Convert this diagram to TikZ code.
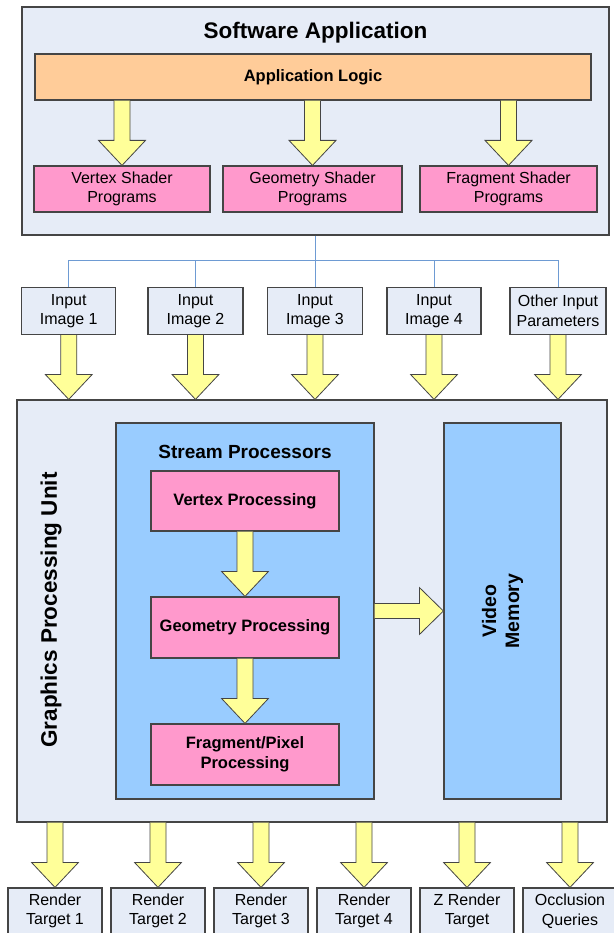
\documentclass[tikz,border=0pt]{standalone}
\usepackage{fontspec}
\setmainfont{Liberation Sans}
\usetikzlibrary{calc}

\definecolor{fondo}{HTML}{E6ECF7}
\definecolor{azul}{HTML}{99CCFF}
\definecolor{rosa}{HTML}{FF99CC}
\definecolor{naranja}{HTML}{FFCC99}
\definecolor{amarillo}{HTML}{FFFF99}
\definecolor{borde}{HTML}{454545}
\definecolor{linea}{HTML}{6E9BD3}

\tikzset{
  caja/.style={draw=borde, line width=1.2pt, inner sep=0pt, align=center,
    font=\fontsize{16}{19.5}\selectfont},
  gris/.style={caja, fill=fondo},
  rosada/.style={caja, fill=rosa, font=\fontsize{16.5}{20}\selectfont\bfseries},
  titulo/.style={font=\fontsize{22.5}{27}\selectfont\bfseries},
  flecha/.style={draw=borde, line width=0.8pt, fill=amarillo},
}

% flecha gruesa hacia abajo: de #1 a #2
\newcommand{\bajada}[2]{%
  \draw[flecha] let \p1=#1, \p2=#2 in
    (\x2-8pt,\y1) -- (\x2-8pt,\y2+25pt) -- (\x2-23.5pt,\y2+25pt) -- (\x2,\y2)
    -- (\x2+23.5pt,\y2+25pt) -- (\x2+8pt,\y2+25pt) -- (\x2+8pt,\y1);}
% flecha gruesa hacia la derecha
\newcommand{\derecha}[2]{%
  \draw[flecha] let \p1=#1, \p2=#2 in
    (\x1,\y2+7.5pt) -- (\x2-24pt,\y2+7.5pt) -- (\x2-24pt,\y2+23.5pt) -- (\x2,\y2)
    -- (\x2-24pt,\y2-23.5pt) -- (\x2-24pt,\y2-7.5pt) -- (\x1,\y2-7.5pt);}

\begin{document}
\begin{tikzpicture}[x=1pt, y=-1pt]
  \useasboundingbox (0,0) rectangle (613,933);

  % Aplicacion
  \node[gris, minimum width=587, minimum height=228] (sw) at (315.5,121) {};
  \node[titulo] (swt) at (315.5,33) {Software Application};
  \node[caja, fill=naranja, font=\fontsize{16.5}{20}\selectfont\bfseries,
    minimum width=556, minimum height=46] (logic) at (313,77) {Application Logic};
  \node[rosada, font=\fontsize{16}{19.5}\selectfont, minimum width=176, minimum height=46] (vsp) at (122,189) {Vertex Shader\\Programs};
  \node[rosada, font=\fontsize{16}{19.5}\selectfont, minimum width=179, minimum height=46] (gsp) at (312.5,189) {Geometry Shader\\Programs};
  \node[rosada, font=\fontsize{16}{19.5}\selectfont, minimum width=177, minimum height=46] (fsp) at (508.5,189) {Fragment Shader\\Programs};

  \bajada{(logic.south -| vsp)}{(vsp.north)}
  \bajada{(logic.south -| gsp)}{(gsp.north)}
  \bajada{(logic.south -| fsp)}{(fsp.north)}

  % Entradas
  \node[gris, minimum width=94, minimum height=47] (in1) at (68.75,311) {Input\\Image 1};
  \node[gris, minimum width=95, minimum height=47] (in2) at (195.5,311) {Input\\Image 2};
  \node[gris, minimum width=95, minimum height=47] (in3) at (315,311) {Input\\Image 3};
  \node[gris, minimum width=94, minimum height=47] (in4) at (434,311) {Input\\Image 4};
  \node[gris, minimum width=96, minimum height=47] (in5) at (558,311) {Other Input\\Parameters};

  \coordinate (rep) at ($(sw.south)+(0,25)$);
  \draw[linea, line width=1pt] (sw.south) -- (rep);
  \draw[linea, line width=1pt] (in1.north) -- (in1.north |- rep) -- (in5.north |- rep) -- (in5.north);
  \draw[linea, line width=1pt] (in2.north) -- (in2.north |- rep);
  \draw[linea, line width=1pt] (in3.north) -- (in3.north |- rep);
  \draw[linea, line width=1pt] (in4.north) -- (in4.north |- rep);

  % GPU
  \node[gris, minimum width=590, minimum height=422] (gpu) at (312,611) {};
  \node[titulo, rotate=90] (gput) at (51,610) {Graphics Processing Unit};
  \node[caja, fill=azul, minimum width=258, minimum height=376] (st) at (245,611) {};
  \node[font=\fontsize{19}{23}\selectfont\bfseries] (stt) at (245,452) {Stream Processors};
  \node[rosada, minimum width=188, minimum height=60] (vp) at (245,501) {Vertex Processing};
  \node[rosada, minimum width=188, minimum height=61] (gp) at (245,627.5) {Geometry Processing};
  \node[rosada, minimum width=188, minimum height=61] (fp) at (245,754.5) {Fragment/Pixel\\Processing};
  \node[caja, fill=azul, minimum width=117, minimum height=376] (vm) at (502.5,611) {};
  \node[font=\fontsize{19.5}{23}\selectfont\bfseries, rotate=90, align=center] (vmt) at (vm) {Video\\Memory};

  \foreach \i in {1,...,5}{
    \bajada{(in\i.south)}{(in\i.south |- gpu.north)}
  }
  \bajada{(vp.south)}{(gp.north)}
  \bajada{(gp.south)}{(fp.north)}
  \derecha{(st.east)}{(vm.west)}

  % Salidas
  \node[gris, minimum width=94, minimum height=46] (rt1) at (55,911) {Render\\Target 1};
  \node[gris, minimum width=94, minimum height=46] (rt2) at (158,911) {Render\\Target 2};
  \node[gris, minimum width=94, minimum height=46] (rt3) at (261,911) {Render\\Target 3};
  \node[gris, minimum width=94, minimum height=46] (rt4) at (364,911) {Render\\Target 4};
  \node[gris, minimum width=94, minimum height=46] (rt5) at (467,911) {Z Render\\Target};
  \node[gris, minimum width=94, minimum height=46] (rt6) at (570,911) {Occlusion\\Queries};

  \foreach \i in {1,...,6}{
    \bajada{(gpu.south -| rt\i)}{(rt\i.north)}
  }
\end{tikzpicture}
\end{document}
